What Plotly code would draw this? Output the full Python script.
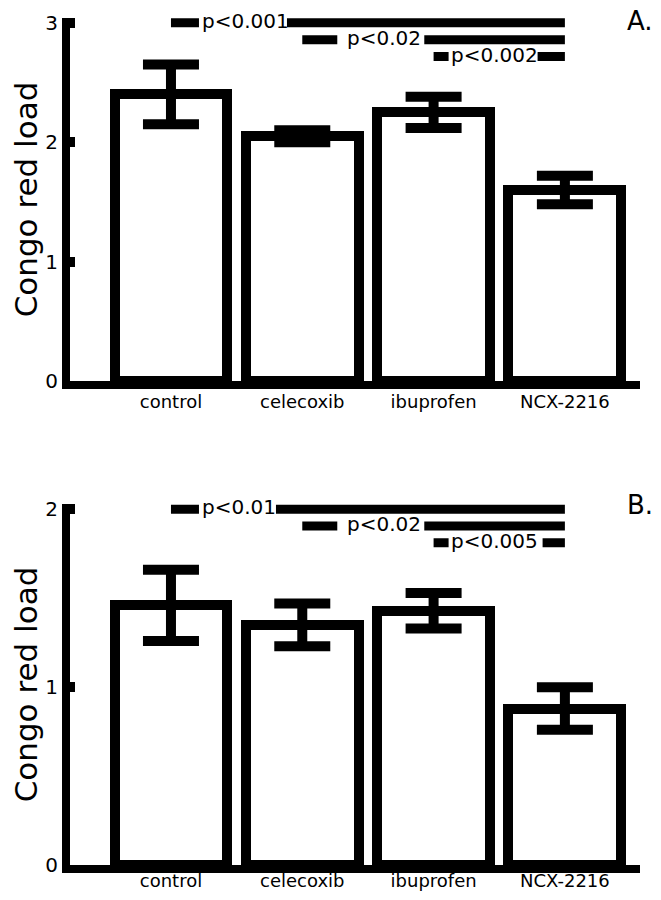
import plotly.graph_objects as go

# ---------------- data ----------------
categories = ["control", "celecoxib", "ibuprofen", "NCX-2216"]
means_a = [2.40, 2.05, 2.25, 1.60]
errors_a = [0.25, 0.05, 0.13, 0.12]
means_b = [1.46, 1.35, 1.43, 0.88]
errors_b = [0.20, 0.12, 0.10, 0.12]
yticks_a = [0, 1, 2, 3]
yticks_b = [0, 1, 2]
ymax_a = 3
ymax_b = 2
comparisons_a = [(0, 3, "p<0.001"), (1, 3, "p<0.02"), (2, 3, "p<0.002")]
comparisons_b = [(0, 3, "p<0.01"), (1, 3, "p<0.02"), (2, 3, "p<0.005")]
panel_labels = ["A.", "B."]
y_title = "Congo red load"

# ---------------- layout / style ----------------
# the page body keeps its default 8px margin, so the figure is 16px smaller
W, H = 645, 884
L, R, T, B = 62, 13, 10, 27
plot_h = H - T - B


def frac(px):
    return (H - B - px) / plot_h


dom_a = [frac(373), 1.0]
dom_b = [0.0, frac(496)]
yrange_a = [0, ymax_a * 1.0135]
yrange_b = [0, ymax_b * 1.015]
xrange_ = [-0.769, 3.572]
FONT = "DejaVu Sans"
# pixel offsets (from the start bar centre) of the gap in each significance line
gaps_a = [(28, 116), (35, 122), (15, 104)]
gaps_b = [(28, 105), (35, 122), (15, 109)]
text_shift = [29, 43, 15]

fig = go.Figure()

panels = [
    ("x", "y", means_a, errors_a, comparisons_a, ymax_a, gaps_a),
    ("x2", "y2", means_b, errors_b, comparisons_b, ymax_b, gaps_b),
]

shapes = []
annotations = []
for xa, ya, means, errs, comps, ymax, gaps in panels:
    fig.add_trace(go.Bar(
        x=categories, y=means, xaxis=xa, yaxis=ya,
        width=0.86,
        marker=dict(color="white", line=dict(color="black", width=10)),
        error_y=dict(type="data", array=errs, visible=True,
                     color="black", thickness=10, width=28),
        showlegend=False, hoverinfo="skip",
    ))
    for k, (i0, i1, label) in enumerate(comps):
        level = ymax * (1 - 0.047 * k)
        shapes.append(dict(type="line", xref=xa, yref=ya,
                           x0=i0, x1=i1, y0=level, y1=level,
                           line=dict(color="black", width=9)))
        g0, g1 = gaps[k]
        shapes.append(dict(type="rect", xref=xa, yref=ya,
                           xsizemode="pixel", ysizemode="pixel",
                           xanchor=i0, yanchor=level,
                           x0=g0, x1=g1, y0=-6, y1=6,
                           fillcolor="white", line=dict(width=0)))
        annotations.append(dict(x=i0, y=level, xref=xa, yref=ya,
                                text=label, showarrow=False,
                                xanchor="left", yanchor="middle",
                                xshift=text_shift[k], yshift=2,
                                font=dict(family=FONT, size=20, color="black")))

annotations.append(dict(x=1.0, y=dom_a[1], xref="paper", yref="paper",
                        text=panel_labels[0], showarrow=False,
                        xanchor="left", yanchor="middle", xshift=-15, yshift=-3,
                        font=dict(family=FONT, size=26, color="black")))
annotations.append(dict(x=1.0, y=dom_b[1], xref="paper", yref="paper",
                        text=panel_labels[1], showarrow=False,
                        xanchor="left", yanchor="middle", xshift=-15, yshift=-1,
                        font=dict(family=FONT, size=26, color="black")))

xaxis_style = dict(range=xrange_, showline=True, linewidth=8, linecolor="black",
                   ticks="", showgrid=False, zeroline=False, automargin=False,
                   tickfont=dict(family=FONT, size=18, color="black"))
yaxis_style = dict(showline=True, linewidth=8, linecolor="black",
                   ticks="inside", ticklen=5, tickwidth=10, tickcolor="black",
                   showgrid=False, zeroline=False, automargin=False,
                   tickfont=dict(family=FONT, size=20, color="black"),
                   title=dict(text=y_title, standoff=16,
                              font=dict(family=FONT, size=31, color="black")))

fig.update_layout(
    width=W, height=H,
    margin=dict(l=L, r=R, t=T, b=B, autoexpand=False),
    paper_bgcolor="white", plot_bgcolor="white",
    bargap=0,
    xaxis=dict(domain=[0, 1], anchor="y", ticklabelstandoff=-3, **xaxis_style),
    yaxis=dict(domain=dom_a, anchor="x", range=yrange_a, tickvals=yticks_a, **yaxis_style),
    xaxis2=dict(domain=[0, 1], anchor="y2", ticklabelstandoff=-8, **xaxis_style),
    yaxis2=dict(domain=dom_b, anchor="x2", range=yrange_b, tickvals=yticks_b, **yaxis_style),
    shapes=shapes,
    annotations=annotations,
)

fig.write_html("out.html", config={"displayModeBar": False})
